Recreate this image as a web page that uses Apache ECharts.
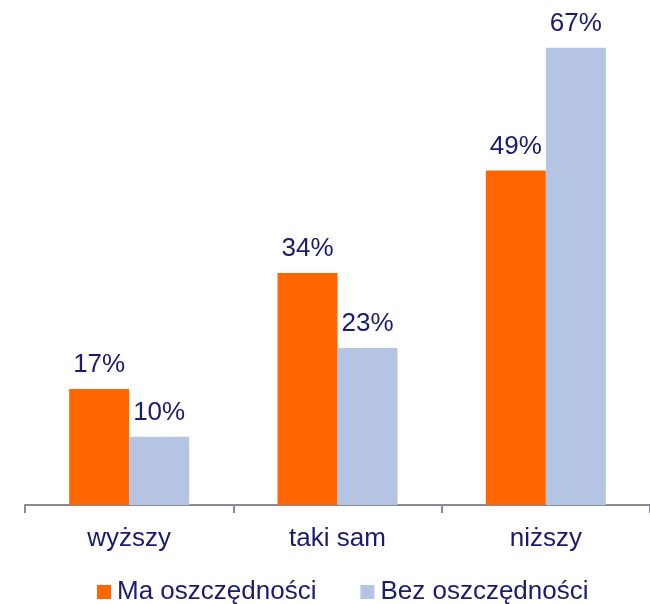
<!DOCTYPE html>
<html>
<head>
<meta charset="utf-8">
<script src="https://cdn.jsdelivr.net/npm/echarts@6/dist/echarts.min.js"></script>
<style>
  html, body { margin: 0; padding: 0; background: #fff; }
  #chart { width: 650px; height: 604px; }
</style>
</head>
<body>
<div id="chart"></div>
<script>
const categories = ['wyższy', 'taki sam', 'niższy']
const seriesNames = ['Ma oszczędności', 'Bez oszczędności']
const withSavings = [17, 34, 49]
const withoutSavings = [10, 23, 67]

const textColor = '#1a1a6e'
const fontFamily = 'Liberation Sans, Arial, sans-serif'
const chart = echarts.init(document.getElementById('chart'))

const labelStyle = {
  show: true,
  position: 'top',
  distance: 11,
  formatter: '{c}%',
  color: textColor,
  fontSize: 26,
  fontFamily: fontFamily
}

chart.setOption({
  animation: false,
  grid: {
    left: 25,
    right: -8,
    top: 0,
    bottom: 99
  },
  legend: {
    bottom: -6,
    left: 92,
    itemWidth: 14,
    itemHeight: 14,
    itemGap: 44,
    icon: 'rect',
    textStyle: {
      color: textColor,
      fontSize: 26,
      fontFamily: fontFamily,
      padding: [0, 0, 0, 1]
    },
    data: seriesNames
  },
  xAxis: {
    type: 'category',
    data: categories,
    axisLine: {
      lineStyle: { color: '#8a8a9c', width: 2 }
    },
    axisTick: {
      show: true,
      length: 8,
      lineStyle: { color: '#8a8a9c', width: 2 }
    },
    axisLabel: {
      margin: 21,
      color: textColor,
      fontSize: 26,
      fontFamily: fontFamily
    }
  },
  yAxis: {
    type: 'value',
    min: 0,
    max: 74,
    show: false,
    splitLine: { show: false }
  },
  series: [
    {
      name: seriesNames[0],
      type: 'bar',
      data: withSavings,
      barWidth: 60,
      barGap: '0%',
      itemStyle: { color: '#ff6600' },
      label: labelStyle
    },
    {
      name: seriesNames[1],
      type: 'bar',
      data: withoutSavings,
      barWidth: 60,
      barGap: '0%',
      itemStyle: { color: '#b4c4e2' },
      label: labelStyle
    }
  ]
})
</script>
</body>
</html>
